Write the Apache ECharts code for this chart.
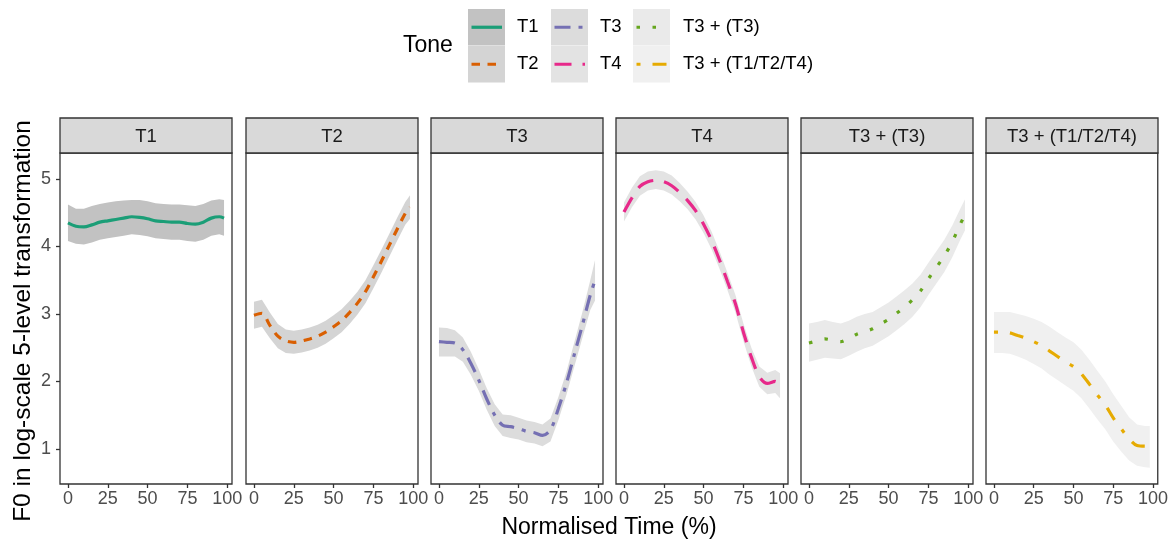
<!DOCTYPE html>
<html><head><meta charset="utf-8">
<script src="https://cdn.jsdelivr.net/npm/echarts@6/dist/echarts.min.js"></script>
<style>html,body{margin:0;padding:0;background:#fff}#c{width:1171px;height:544px}</style>
</head><body><div id="c"></div>
<script>
// ---------- data ----------
const TONES = ['T1', 'T2', 'T3', 'T4', 'T3 + (T3)', 'T3 + (T1/T2/T4)'];
const TIME = [0,5,10,15,20,25,30,35,40,45,50,55,60,65,70,75,80,85,90,95,98];
const X_TICKS = [0, 25, 50, 75, 100];
const Y_TICKS = [1, 2, 3, 4, 5];

const T1_MEAN  = [4.35,4.30,4.29,4.32,4.36,4.38,4.40,4.42,4.44,4.43,4.41,4.38,4.37,4.36,4.36,4.34,4.33,4.36,4.42,4.44,4.42];
const T1_UPPER = [4.62,4.56,4.56,4.60,4.63,4.65,4.67,4.68,4.69,4.69,4.67,4.64,4.63,4.62,4.62,4.61,4.60,4.63,4.68,4.70,4.69];
const T1_LOWER = [4.08,4.04,4.03,4.06,4.10,4.12,4.14,4.16,4.18,4.17,4.15,4.12,4.11,4.10,4.10,4.08,4.07,4.10,4.16,4.18,4.16];

const T2_MEAN  = [2.98,3.01,2.83,2.67,2.60,2.58,2.60,2.63,2.67,2.73,2.81,2.90,3.02,3.16,3.33,3.55,3.78,4.02,4.26,4.49,4.58];
const T2_UPPER = [3.18,3.21,3.02,2.85,2.77,2.75,2.77,2.80,2.84,2.90,2.98,3.07,3.19,3.33,3.50,3.72,3.95,4.19,4.43,4.66,4.76];
const T2_LOWER = [2.78,2.81,2.64,2.49,2.42,2.41,2.43,2.46,2.50,2.56,2.64,2.73,2.85,2.99,3.16,3.38,3.61,3.85,4.09,4.32,4.41];

const T3_MEAN  = [2.59,2.58,2.57,2.47,2.27,2.02,1.74,1.50,1.35,1.33,1.30,1.26,1.24,1.20,1.28,1.60,1.97,2.40,2.83,3.28,3.50];
const T3_UPPER = [2.80,2.79,2.76,2.65,2.44,2.18,1.90,1.66,1.51,1.50,1.46,1.42,1.40,1.36,1.45,1.77,2.14,2.58,3.02,3.50,3.80];
const T3_LOWER = [2.37,2.37,2.37,2.29,2.10,1.86,1.58,1.34,1.19,1.16,1.14,1.10,1.08,1.04,1.11,1.43,1.80,2.22,2.64,3.06,3.20];

const T4_MEAN  = [4.51,4.72,4.89,4.96,4.98,4.96,4.90,4.80,4.68,4.53,4.33,4.09,3.80,3.48,3.15,2.73,2.36,2.07,1.97,2.00,1.93];
const T4_UPPER = [4.65,4.87,5.04,5.11,5.13,5.11,5.05,4.94,4.81,4.66,4.46,4.22,3.93,3.61,3.28,2.86,2.50,2.22,2.13,2.17,2.12];
const T4_LOWER = [4.37,4.58,4.75,4.83,4.85,4.83,4.77,4.67,4.55,4.40,4.20,3.96,3.67,3.35,3.02,2.60,2.22,1.92,1.81,1.83,1.75];

const T33_MEAN  = [2.57,2.60,2.63,2.61,2.59,2.64,2.70,2.74,2.78,2.85,2.92,3.01,3.10,3.21,3.34,3.52,3.69,3.86,4.07,4.33,4.47];
const T33_UPPER = [2.86,2.88,2.91,2.88,2.86,2.90,2.96,3.00,3.03,3.10,3.17,3.26,3.35,3.45,3.58,3.76,3.93,4.10,4.31,4.56,4.70];
const T33_LOWER = [2.29,2.32,2.35,2.34,2.33,2.38,2.44,2.49,2.53,2.60,2.67,2.76,2.85,2.96,3.10,3.28,3.45,3.62,3.84,4.10,4.24];

const T3X_MEAN  = [2.73,2.73,2.72,2.68,2.64,2.59,2.53,2.45,2.37,2.29,2.22,2.11,1.96,1.80,1.65,1.46,1.30,1.15,1.05,1.04,1.04];
const T3X_UPPER = [3.03,3.03,3.03,3.00,2.97,2.93,2.88,2.81,2.73,2.65,2.58,2.47,2.32,2.16,2.00,1.81,1.64,1.47,1.36,1.34,1.34];
const T3X_LOWER = [2.42,2.42,2.41,2.37,2.32,2.26,2.19,2.10,2.02,1.94,1.86,1.75,1.60,1.44,1.29,1.11,0.96,0.83,0.75,0.73,0.72];

const MEANS  = [T1_MEAN, T2_MEAN, T3_MEAN, T4_MEAN, T33_MEAN, T3X_MEAN];
const UPPERS = [T1_UPPER, T2_UPPER, T3_UPPER, T4_UPPER, T33_UPPER, T3X_UPPER];
const LOWERS = [T1_LOWER, T2_LOWER, T3_LOWER, T4_LOWER, T33_LOWER, T3X_LOWER];

// ---------- styles ----------
const LINE_COLORS = ['#1B9E77', '#D95F02', '#7570B3', '#E7298A', '#66A61E', '#E6AB02'];
const RIBBON_COLORS = ['#C2C2C2', '#D4D4D4', '#DCDCDC', '#E3E3E3', '#EAEAEA', '#F0F0F0'];
const DASHES = ['solid', [8.5, 7.5], [16, 8, 4, 8], [17, 11], [3.5, 12.5], [4, 12, 14, 12]];
const FONT = '"Liberation Sans", Arial, Helvetica, sans-serif';
const LW = 3.2;

const PANEL_LEFT = [60, 246, 431, 616, 801, 986];
const PANEL_W = 172, PANEL_TOP = 153, PANEL_H = 331;
const STRIP_TOP = 118, STRIP_H = 35;

const grids = [], xAxes = [], yAxes = [], series = [], graphics = [];

TONES.forEach((tone, i) => {
  grids.push({left: PANEL_LEFT[i], top: PANEL_TOP, width: PANEL_W, height: PANEL_H,
    show: true, borderColor: '#333333', borderWidth: 1.3, backgroundColor: '#ffffff', containLabel: false});
  xAxes.push({gridIndex: i, type: 'value', min: -5, max: 103,
    axisLine: {show: false, onZero: false},
    axisTick: {show: true, length: 4, inside: false, customValues: X_TICKS, lineStyle: {color: '#333333', width: 1.3}},
    axisLabel: {show: true, customValues: X_TICKS, color: '#4D4D4D', fontSize: 18, fontFamily: FONT, margin: 6},
    splitLine: {show: false}});
  yAxes.push({gridIndex: i, type: 'value', min: 0.48, max: 5.385,
    axisLine: {show: false, onZero: false},
    axisTick: {show: i === 0, length: 4, inside: false, customValues: Y_TICKS, lineStyle: {color: '#333333', width: 1.3}},
    axisLabel: {show: i === 0, customValues: Y_TICKS, color: '#4D4D4D', fontSize: 18, fontFamily: FONT, margin: 9},
    splitLine: {show: false}});

  // confidence ribbon: polygon through upper bound then back along lower bound
  series.push({type: 'custom', name: tone + ' ribbon', xAxisIndex: i, yAxisIndex: i, silent: true, clip: true,
    data: TIME.map((t, k) => [t, LOWERS[i][k], UPPERS[i][k]]),
    encode: {x: 0, y: [1, 2]},
    renderItem: (params, api) => {
      if (params.dataIndex !== 0) return null;
      const pts = [];
      for (let k = 0; k < TIME.length; k++) pts.push(api.coord([TIME[k], UPPERS[i][k]]));
      for (let k = TIME.length - 1; k >= 0; k--) pts.push(api.coord([TIME[k], LOWERS[i][k]]));
      return {type: 'polygon', shape: {points: pts}, style: {fill: RIBBON_COLORS[i], stroke: null}};
    }});
  series.push({type: 'line', name: tone, xAxisIndex: i, yAxisIndex: i,
    data: TIME.map((t, k) => [t, MEANS[i][k]]),
    symbol: 'none', smooth: 0.3, z: 5,
    lineStyle: {color: LINE_COLORS[i], width: LW, type: DASHES[i], cap: 'butt'}});

  // facet strip
  graphics.push({type: 'rect', shape: {x: PANEL_LEFT[i], y: STRIP_TOP, width: PANEL_W, height: STRIP_H},
    style: {fill: '#D9D9D9', stroke: '#333333', lineWidth: 1.3}, z: 10});
  graphics.push({type: 'text', x: PANEL_LEFT[i] + PANEL_W / 2, y: STRIP_TOP + STRIP_H / 2 + 1,
    style: {text: tone, fill: '#1A1A1A', font: '18.5px ' + FONT, textAlign: 'center', textVerticalAlign: 'middle'}, z: 11});
});

// axis titles
graphics.push({type: 'text', x: 609, y: 528,
  style: {text: 'Normalised Time (%)', fill: '#000000', font: '23px ' + FONT, textAlign: 'center', textVerticalAlign: 'middle'}});
graphics.push({type: 'text', x: 23, y: 321, rotation: Math.PI / 2,
  style: {text: 'F0 in log-scale 5-level transformation', fill: '#000000', font: '24.5px ' + FONT, textAlign: 'center', textVerticalAlign: 'middle'}});

// legend
graphics.push({type: 'text', x: 403, y: 46,
  style: {text: 'Tone', fill: '#000000', font: '23px ' + FONT, textAlign: 'left', textVerticalAlign: 'middle'}});
const KEY_X = [468, 551, 633], KEY_Y = [9, 46], KEY_W = 37, KEY_H = 36.5, LABEL_X = [517, 600, 683];
TONES.forEach((tone, i) => {
  const col = Math.floor(i / 2), row = i % 2;
  const kx = KEY_X[col], ky = KEY_Y[row];
  graphics.push({type: 'rect', shape: {x: kx, y: ky, width: KEY_W, height: KEY_H},
    style: {fill: RIBBON_COLORS[i]}});
  const cy = ky + KEY_H / 2;
  graphics.push({type: 'line', shape: {x1: kx + 3.5, y1: cy, x2: kx + KEY_W - 3, y2: cy},
    style: {stroke: LINE_COLORS[i], lineWidth: LW, lineDash: DASHES[i] === 'solid' ? null : DASHES[i], lineCap: 'butt'}});
  graphics.push({type: 'text', x: LABEL_X[col], y: cy,
    style: {text: tone, fill: '#000000', font: '18.5px ' + FONT, textAlign: 'left', textVerticalAlign: 'middle'}});
});

const chart = echarts.init(document.getElementById('c'), null, {renderer: 'canvas'});
chart.setOption({
  animation: false,
  backgroundColor: '#ffffff',
  grid: grids, xAxis: xAxes, yAxis: yAxes, series: series,
  graphic: graphics
});
</script>
</body></html>
